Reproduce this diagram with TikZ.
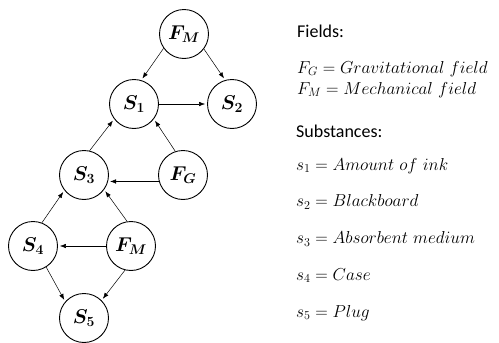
\RequirePackage{fix-cm}
\documentclass[tikz,border=0pt]{standalone}
\usepackage{amsmath}
\usepackage{fontspec}
\setsansfont{Carlito}
\usetikzlibrary{arrows.meta}

\begin{document}
\begin{tikzpicture}[x=1pt,y=-1pt,
    sub/.style={circle,draw,line width=0.9pt,minimum size=49pt,inner sep=0pt,
      font=\fontsize{20}{22}\selectfont},
    link/.style={line width=0.5pt,-{Latex[length=6pt,width=4.5pt]},shorten >=2pt},
    legend/.style={anchor=base west,inner sep=0pt,font=\fontsize{17.3}{20}\selectfont},
    heading/.style={legend,font=\sffamily\fontsize{18}{20}\selectfont}]
\useasboundingbox (0,0) rectangle (499,343);
\foreach \X/\P in {1/{134,104},2/{232,104},3/{84,175},4/{33,246},5/{84,318}}
  \node[sub] (S-\X) at (\P) {$\boldsymbol{S_\X}$};
\node[sub] (FM-1) at (184,34) {$\boldsymbol{F_M}$};
\node[sub] (FG) at (183,175) {$\boldsymbol{F_G}$};
\node[sub] (FM-2) at (131,246) {$\boldsymbol{F_M}$};
\foreach \A/\B in {FM-1.215/S-1.73,FM-1.323/S-2.106,S-1/S-2,S-3.77/S-1.217,
    FG.108/S-1.323,FG.195/S-3.345,S-4.69/S-3.218,FM-2.99/S-3.324,FM-2/S-4,
    S-4.302/S-5.139,FM-2.256/S-5.45}
  \draw[link] (\A) -- (\B);
\node[heading] (fields) at (297,37) {Fields:};
\node[legend] (FG-def) at (297,73) {$F_G = Gravitational\ field$};
\node[legend] (FM-def) at (297,94) {$F_M = Mechanical\ field$};
\node[heading] (substances) at (296,137) {Substances:};
\foreach \X [count=\Y] in {Amount\ of\ ink,Blackboard,Absorbent\ medium,Case,Plug}
  \node[legend] (s-\Y) at (296,133.25+36.75*\Y) {$s_\Y = \X$};
\end{tikzpicture}
\end{document}
